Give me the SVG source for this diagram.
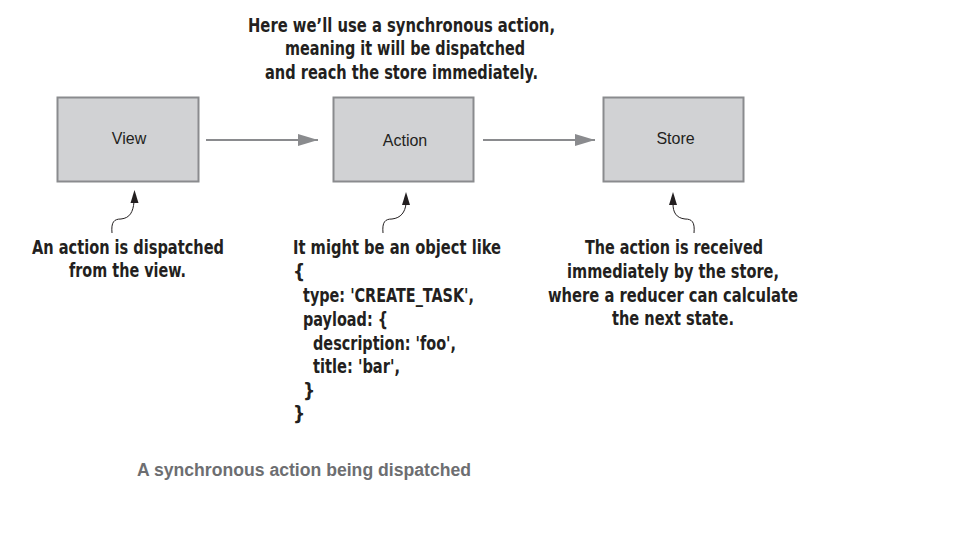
<svg xmlns="http://www.w3.org/2000/svg" width="972" height="535" viewBox="0 0 972 535">
<defs>
<style>
.box{fill:#d1d2d4;stroke:#8a8b8e;stroke-width:2}
.lbl{font-family:"Liberation Sans",Arial,sans-serif;font-size:16px;fill:#231f20;text-anchor:middle}
.ann{font-family:"Liberation Sans Narrow","DejaVu Sans Condensed","Liberation Sans",sans-serif;font-weight:bold;font-size:19px;fill:#231f20}
.mid{text-anchor:middle}
.flow{stroke:#8a8b8e;stroke-width:1.8;fill:none}
.sq{stroke:#231f20;stroke-width:1;fill:none}
.cap{font-family:"Liberation Sans",Arial,sans-serif;font-weight:bold;font-size:17.5px;fill:#6d6e71}
</style>
<marker id="ah" markerWidth="20" markerHeight="12" refX="20" refY="6" orient="auto" markerUnits="userSpaceOnUse">
<path d="M0,0 L20,6 L0,12 Z" fill="#8a8b8e"/>
</marker>
</defs>
<rect width="972" height="535" fill="#ffffff"/>

<g id="title">
<text class="ann mid" x="401.5" y="32" textLength="307" lengthAdjust="spacingAndGlyphs">Here we’ll use a synchronous action,</text>
<text class="ann mid" x="405" y="55" textLength="240" lengthAdjust="spacingAndGlyphs">meaning it will be dispatched</text>
<text class="ann mid" x="401.5" y="79" textLength="273" lengthAdjust="spacingAndGlyphs">and reach the store immediately.</text>
</g>

<g id="view">
<rect class="box" x="57.5" y="97.5" width="141" height="84"/>
<text class="lbl" x="129" y="144">View</text>
</g>
<g id="action">
<rect class="box" x="333.5" y="97.5" width="140" height="84"/>
<text class="lbl" x="405" y="146">Action</text>
</g>
<g id="store">
<rect class="box" x="603.5" y="97.5" width="140" height="84"/>
<text class="lbl" x="675.5" y="144">Store</text>
</g>

<g id="connectors">
<line class="flow" x1="206" y1="140" x2="318" y2="140" marker-end="url(#ah)"/>
<line class="flow" x1="483" y1="140" x2="595" y2="140" marker-end="url(#ah)"/>
<path class="sq" d="M112,233 C111,222 114,219 121,219 C130,218 133,212 134,202"/>
<path d="M134.5,190 L138.5,203 L130.5,203 Z" fill="#231f20"/>
<path class="sq" d="M383,233 C382,222 385,219 392,219 C401,218 405,212 406,204"/>
<path d="M406,192 L410,205 L402,205 Z" fill="#231f20"/>
<path class="sq" d="M694,233 C695,222 692,219 685,219 C676,218 673,212 673,204"/>
<path d="M673,192 L677,205 L669,205 Z" fill="#231f20"/>
</g>

<g id="note-view">
<text class="ann mid" x="128" y="254" textLength="192" lengthAdjust="spacingAndGlyphs">An action is dispatched</text>
<text class="ann mid" x="127.5" y="277" textLength="117" lengthAdjust="spacingAndGlyphs">from the view.</text>
</g>
<g id="note-action">
<text class="ann" x="293" y="254" textLength="208" lengthAdjust="spacingAndGlyphs">It might be an object like</text>
<text class="ann" x="293" y="278">{</text>
<text class="ann" x="303" y="302" textLength="171" lengthAdjust="spacingAndGlyphs">type: 'CREATE_TASK',</text>
<text class="ann" x="303" y="326" textLength="85" lengthAdjust="spacingAndGlyphs">payload: {</text>
<text class="ann" x="313" y="350" textLength="143" lengthAdjust="spacingAndGlyphs">description: 'foo',</text>
<text class="ann" x="313" y="373" textLength="87" lengthAdjust="spacingAndGlyphs">title: 'bar',</text>
<text class="ann" x="303" y="397">}</text>
<text class="ann" x="293" y="420">}</text>
</g>
<g id="note-store">
<text class="ann mid" x="674" y="254" textLength="178" lengthAdjust="spacingAndGlyphs">The action is received</text>
<text class="ann mid" x="673" y="278" textLength="212" lengthAdjust="spacingAndGlyphs">immediately by the store,</text>
<text class="ann mid" x="673" y="302" textLength="250" lengthAdjust="spacingAndGlyphs">where a reducer can calculate</text>
<text class="ann mid" x="673" y="325" textLength="122" lengthAdjust="spacingAndGlyphs">the next state.</text>
</g>

<g id="caption">
<text class="cap" x="137" y="476" textLength="334" lengthAdjust="spacingAndGlyphs">A synchronous action being dispatched</text>
</g>
</svg>
